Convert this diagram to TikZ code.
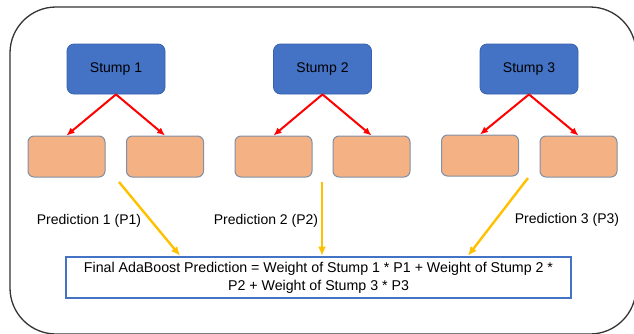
\documentclass[tikz,border=0pt]{standalone}
\usepackage{fontspec}
\setmainfont{Liberation Sans}
\usetikzlibrary{arrows.meta}
\definecolor{stumpblue}{HTML}{4472C4}
\definecolor{stumpedge}{HTML}{3A62AC}
\definecolor{leaffill}{HTML}{F4B183}
\definecolor{leafedge}{HTML}{7F8FA6}
\definecolor{goldline}{HTML}{FFC000}
\definecolor{frameline}{HTML}{333333}
\tikzset{
  stumpbox/.style={draw=stumpedge, fill=stumpblue, rounded corners=7pt, line width=0.8pt,
    minimum width=98pt, minimum height=50pt, inner sep=0pt, font=\fontsize{14}{16}\selectfont},
  leafbox/.style={draw=leafedge, fill=leaffill, rounded corners=6pt, line width=1pt,
    minimum width=77pt, minimum height=41pt, inner sep=0pt},
  splitarrow/.style={draw=red, line width=2pt, -{Latex[length=8pt,width=7pt]}},
  predarrow/.style={draw=goldline, line width=2.4pt, -{Latex[length=9pt,width=8pt]}},
  predlabel/.style={font=\fontsize{14}{16}\selectfont, inner sep=0pt},
  finalbox/.style={draw=stumpblue, fill=white, line width=2.6pt, minimum width=505pt,
    minimum height=41pt, inner sep=0pt, align=center, font=\fontsize{14.2}{18}\selectfont}
}
\begin{document}
\begin{tikzpicture}[x=1pt,y=-1pt]
\useasboundingbox (0,0) rectangle (634,333);
% outer frame, running off the right and bottom edges
\begin{scope}
\clip (0,0) rectangle (634,333);
\draw[frameline, line width=1.3pt, rounded corners=46pt] (10,7) rectangle (636,334);
\end{scope}

% stumps
\node[stumpbox] (s1) at (116,69) {Stump 1};
\node[stumpbox] (s2) at (322.5,69) {Stump 2};
\node[stumpbox] (s3) at (529,69) {Stump 3};

% leaves
\node[leafbox] (l1) at (66.5,156.5) {};
\node[leafbox] (l2) at (165,156.5) {};
\node[leafbox] (l3) at (273.5,156.5) {};
\node[leafbox] (l4) at (371.5,156.5) {};
\node[leafbox] (l5) at (480,155.5) {};
\node[leafbox] (l6) at (578.5,156.5) {};

% splits
\draw[splitarrow] (s1.south) -- (l1.north);
\draw[splitarrow] (s1.south) -- (l2.north);
\draw[splitarrow] (s2.south) -- (l3.north);
\draw[splitarrow] (s2.south) -- (l4.north);
\draw[splitarrow] (s3.south) -- (l5.north);
\draw[splitarrow] (s3.south) -- (l6.north);

% final prediction
\node[finalbox] (f) at (318.5,277.5) {Final AdaBoost Prediction = Weight of Stump 1 * P1 + Weight of Stump 2 *\\P2 + Weight of Stump 3 * P3};

% prediction labels
\node[predlabel] (p1) at (89,221) {Prediction 1 (P1)};
\node[predlabel] (p2) at (266,221) {Prediction 2 (P2)};
\node[predlabel] (p3) at (567,220) {Prediction 3 (P3)};

% predictions flowing into the final sum
\coordinate (a1) at (119,182);
\coordinate (a2) at (322,182);
\coordinate (a3) at (528,178);
\draw[predarrow] (a1) -- (f.north -| 180,0);
\draw[predarrow] (a2) -- (f.north -| 322,0);
\draw[predarrow] (a3) -- (f.north -| 468,0);
\end{tikzpicture}
\end{document}
